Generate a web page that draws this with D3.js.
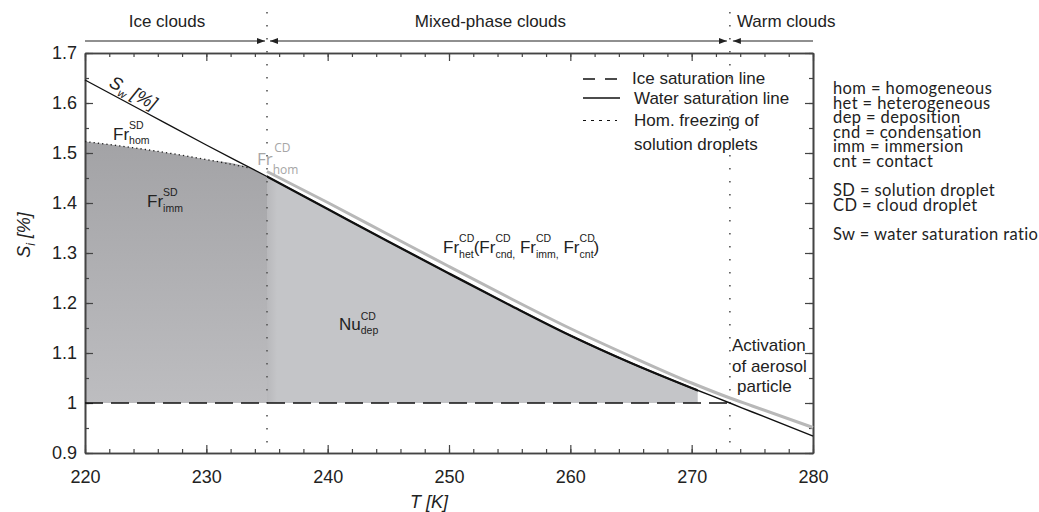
<!DOCTYPE html>
<html>
<head>
<meta charset="utf-8">
<script src="https://cdn.jsdelivr.net/npm/d3@7"></script>
<style>
  body { margin: 0; background: #fff; }
  svg { display: block; }
  text { white-space: pre; }
</style>
</head>
<body>
<svg id="chart" width="1039" height="512"></svg>
<script>
// saturation ratio over ice along the water saturation line
const temps    = [220, 225, 230, 235, 240, 245, 250, 255, 260, 265, 270, 273.15, 275, 280];
const waterSat = [1.646, 1.581, 1.516, 1.453, 1.388, 1.323, 1.259, 1.196, 1.135, 1.080, 1.030, 1.0, 0.982, 0.934];

// grey line: freezing of cloud droplets
const cdTemps  = [235, 240, 245, 250, 255, 260, 265, 270, 273.15, 275, 280];
const cdSat    = [1.463, 1.401, 1.337, 1.273, 1.210, 1.149, 1.093, 1.040, 1.010, 0.994, 0.951];

// homogeneous freezing threshold of solution droplets
const homTemps = [220, 225, 230, 233.6];
const homSat   = [1.523, 1.507, 1.487, 1.470];

const iceSat      = 1.0;
const iceSatRange = [220, 273.15];
const shadeEnd    = 270.5;

const regimeBounds = [220, 235, 273.15, 280];
const regimeNames  = ['Ice clouds', 'Mixed-phase clouds', 'Warm clouds'];

const xMajor  = [220, 230, 240, 250, 260, 270, 280];
const xMinor  = d3.range(220, 281, 2);
const yMajor  = [0.9, 1.0, 1.1, 1.2, 1.3, 1.4, 1.5, 1.6, 1.7];
const yLabels = ['0.9', '1', '1.1', '1.2', '1.3', '1.4', '1.5', '1.6', '1.7'];
const yMinor  = d3.range(0.9, 1.7001, 0.05);

const legendItems = [
  { label: ['Ice saturation line'], dash: '12,10' },
  { label: ['Water saturation line'], dash: null },
  { label: ['Hom. freezing of', 'solution droplets'], dash: '3,5' }
];

const glossary = [
  ['hom = homogeneous', 'het = heterogeneous', 'dep = deposition', 'cnd = condensation',
   'imm = immersion', 'cnt = contact'],
  ['SD = solution droplet', 'CD = cloud droplet'],
  ['Sw = water saturation ratio']
];

const svg = d3.select('#chart');
const sans = '"Liberation Sans", Arial, Helvetica, sans-serif';

const x = d3.scaleLinear().domain([220, 280]).range([85, 813]);
const y = d3.scaleLinear().domain([0.9, 1.7]).range([453, 53]);

const defs = svg.append('defs');

// shading gradients
const gDark = defs.append('linearGradient').attr('id', 'darkShade')
  .attr('gradientUnits', 'userSpaceOnUse')
  .attr('x1', 0).attr('x2', 0).attr('y1', y(1.52)).attr('y2', y(1.0));
gDark.append('stop').attr('offset', 0).attr('stop-color', '#a3a3a6');
gDark.append('stop').attr('offset', 1).attr('stop-color', '#bdbdc0');

const gLight = defs.append('linearGradient').attr('id', 'lightShade')
  .attr('gradientUnits', 'userSpaceOnUse')
  .attr('x1', x(235)).attr('x2', x(235) + 10).attr('y1', 0).attr('y2', 0);
gLight.append('stop').attr('offset', 0).attr('stop-color', '#b8b8bb');
gLight.append('stop').attr('offset', 1).attr('stop-color', '#c4c5c8');

// mixed-phase shading and the heavy part of the water line stop at the same temperature
defs.append('clipPath').attr('id', 'mixedClip')
  .append('rect')
  .attr('x', x(235)).attr('y', y(1.7))
  .attr('width', x(shadeEnd) - x(235)).attr('height', y(0.9) - y(1.7));

defs.append('marker').attr('id', 'arrow')
  .attr('viewBox', '0 0 8 6').attr('refX', 8).attr('refY', 3)
  .attr('markerWidth', 8).attr('markerHeight', 6)
  .attr('markerUnits', 'userSpaceOnUse')
  .attr('orient', 'auto-start-reverse')
  .append('path').attr('d', 'M0,0L8,3L0,6Z').attr('fill', '#222');

const water = temps.map((t, i) => [t, waterSat[i]]);
const cdLine = cdTemps.map((t, i) => [t, cdSat[i]]);
const homLine = homTemps.map((t, i) => [t, homSat[i]]);

const line = d3.line().x(d => x(d[0])).y(d => y(d[1])).curve(d3.curveMonotoneX);
const area = d3.area().x(d => x(d[0])).y0(y(iceSat)).y1(d => y(d[1])).curve(d3.curveMonotoneX);

// ice-cloud regime: freezing of solution droplets
const darkTop = homLine.concat([[235, waterSat[temps.indexOf(235)]]]);
svg.append('path')
  .attr('d', area(darkTop))
  .attr('fill', 'url(#darkShade)');

// mixed-phase regime below water saturation
svg.append('path')
  .attr('d', area(water))
  .attr('clip-path', 'url(#mixedClip)')
  .attr('fill', 'url(#lightShade)');

// axes with inward ticks on all four sides
const axisG = svg.append('g').attr('font-family', sans);
function addAxis(axis, tx, ty) {
  const g = axisG.append('g').attr('transform', `translate(${tx},${ty})`).call(axis);
  g.select('.domain').attr('stroke', '#444').attr('stroke-width', 1.6);
  g.selectAll('.tick line').attr('stroke', '#444').attr('stroke-width', 1.2);
  g.selectAll('.tick text').attr('fill', '#222').style('font-size', '18px');
  return g;
}
addAxis(d3.axisBottom(x).tickValues(xMinor).tickSize(-4).tickSizeOuter(0).tickFormat(''), 0, y(0.9));
addAxis(d3.axisBottom(x).tickValues(xMajor).tickSize(-8).tickSizeOuter(0).tickPadding(17).tickFormat(d3.format('d')), 0, y(0.9));
addAxis(d3.axisTop(x).tickValues(xMinor).tickSize(-4).tickSizeOuter(0).tickFormat(''), 0, y(1.7));
addAxis(d3.axisTop(x).tickValues(xMajor).tickSize(-8).tickSizeOuter(0).tickFormat(''), 0, y(1.7));
addAxis(d3.axisLeft(y).tickValues(yMinor).tickSize(-4).tickSizeOuter(0).tickFormat(''), x(220), 0);
addAxis(d3.axisLeft(y).tickValues(yMajor).tickSize(-8).tickSizeOuter(0).tickPadding(8)
  .tickFormat((d, i) => yLabels[i]), x(220), 0);
addAxis(d3.axisRight(y).tickValues(yMinor).tickSize(-4).tickSizeOuter(0).tickFormat(''), x(280), 0);
addAxis(d3.axisRight(y).tickValues(yMajor).tickSize(-8).tickSizeOuter(0).tickFormat(''), x(280), 0);

// regime boundaries
svg.selectAll('line.regime')
  .data([regimeBounds[1], regimeBounds[2]])
  .join('line')
  .attr('class', 'regime')
  .attr('x1', d => x(d)).attr('x2', d => x(d))
  .attr('y1', 12).attr('y2', y(0.9))
  .attr('stroke', '#555').attr('stroke-width', 1.6)
  .attr('stroke-dasharray', '1.6,11.4');

// ice saturation line
svg.append('line')
  .attr('x1', x(iceSatRange[0])).attr('x2', x(iceSatRange[1]))
  .attr('y1', y(iceSat)).attr('y2', y(iceSat))
  .attr('stroke', '#111').attr('stroke-width', 1.4)
  .attr('stroke-dasharray', '18,8');

// homogeneous freezing of solution droplets
svg.append('path')
  .attr('d', line(homLine))
  .attr('fill', 'none').attr('stroke', '#222').attr('stroke-width', 1.3)
  .attr('stroke-dasharray', '1.3,3');

// cloud droplet freezing line
svg.append('path')
  .attr('d', line(cdLine))
  .attr('fill', 'none').attr('stroke', '#b8b8b8').attr('stroke-width', 3);

// water saturation line: thin in ice and warm clouds, heavier where it bounds the shading
svg.append('path')
  .attr('d', line(water))
  .attr('fill', 'none').attr('stroke', '#111').attr('stroke-width', 1.4);
svg.append('path')
  .attr('d', line(water))
  .attr('clip-path', 'url(#mixedClip)')
  .attr('fill', 'none').attr('stroke', '#111').attr('stroke-width', 2.3);

// regime header with arrows
const head = svg.append('g').attr('font-family', sans).attr('fill', '#222').style('font-size', '17px');
const arrows = [
  { x1: x(regimeBounds[0]), x2: x(regimeBounds[1]) - 2, start: false, end: true },
  { x1: x(regimeBounds[1]) + 3, x2: x(regimeBounds[2]) - 3, start: true, end: true },
  { x1: x(regimeBounds[2]) + 3, x2: x(regimeBounds[3]), start: true, end: false }
];
arrows.forEach(a => {
  head.append('line')
    .attr('x1', a.x1).attr('x2', a.x2).attr('y1', 41).attr('y2', 41)
    .attr('stroke', '#222').attr('stroke-width', 1.2)
    .attr('marker-start', a.start ? 'url(#arrow)' : null)
    .attr('marker-end', a.end ? 'url(#arrow)' : null);
});
head.append('text').attr('x', (x(regimeBounds[0]) + x(regimeBounds[1])) / 2 - 9).attr('y', 27)
  .attr('text-anchor', 'middle').text(regimeNames[0]);
head.append('text').attr('x', (x(regimeBounds[1]) + x(regimeBounds[2])) / 2 - 8).attr('y', 27)
  .attr('text-anchor', 'middle').text(regimeNames[1]);
head.append('text').attr('x', x(regimeBounds[2]) + 7).attr('y', 27).text(regimeNames[2]);

// labels with stacked super- and subscripts
function richText(g, x0, y0, parts, o) {
  let cx = x0;
  parts.forEach(p => {
    if (typeof p === 'string') {
      const t = g.append('text').attr('x', cx).attr('y', y0).style('font-size', o.size + 'px').text(p);
      cx += t.node().getComputedTextLength();
    } else {
      g.append('text').attr('x', cx + (o.supDx || 0)).attr('y', y0 + o.supDy)
        .style('font-size', o.small + 'px').text(p.sup);
      const s = g.append('text').attr('x', cx).attr('y', y0 + o.subDy)
        .style('font-size', o.small + 'px').text(p.sub);
      cx += s.node().getComputedTextLength();
    }
  });
}

const labels = svg.append('g').attr('font-family', sans).attr('fill', '#222');
const std = { size: 17, small: 10.5, supDy: -11, subDy: 4.5 };
richText(labels, 113, 139.5, ['Fr', { sup: 'SD', sub: 'hom' }], std);
richText(labels, 147, 207, ['Fr', { sup: 'SD', sub: 'imm' }], std);
richText(labels, 339, 329.5, ['Nu', { sup: 'CD', sub: 'dep' }], { size: 17, small: 10.5, supDy: -10, subDy: 4.5 });
richText(labels, 443, 252.7, ['Fr', { sup: 'CD', sub: 'het' }, '(Fr', { sup: 'CD', sub: 'cnd,' }, ' Fr',
  { sup: 'CD', sub: 'imm,' }, ' Fr', { sup: 'CD', sub: 'cnt' }, ')'], { size: 17, small: 10.5, supDy: -11, subDy: 5.3 });

const greyLab = svg.append('g').attr('font-family', '"Open Sans", sans-serif').attr('fill', '#a6a6a6');
richText(greyLab, 257, 165, ['Fr', { sup: 'CD', sub: 'hom' }], { size: 17, small: 12, supDy: -13, subDy: 9, supDx: 1.5 });

// S_w label along the water saturation line
const swAngle = Math.atan2(y(waterSat[1]) - y(waterSat[0]), x(temps[1]) - x(temps[0])) * 180 / Math.PI;
const sw = labels.append('text')
  .attr('transform', `translate(108,86) rotate(${swAngle})`)
  .style('font-size', '18px').style('font-style', 'italic');
sw.append('tspan').text('S');
sw.append('tspan').attr('dy', 4).style('font-size', '11px').text('w');
sw.append('tspan').attr('dy', -4).text(' [%]');

// activation annotation
const act = labels.append('g').style('font-size', '17px');
[['Activation', 732, 351], ['of aerosol', 732, 372], ['particle', 737, 392]].forEach(d => {
  act.append('text').attr('x', d[1]).attr('y', d[2]).text(d[0]);
});

// axis titles
labels.append('text').attr('x', 429).attr('y', 508).attr('text-anchor', 'middle')
  .style('font-size', '18px').style('font-style', 'italic').text('T [K]');
const yt = labels.append('text')
  .attr('transform', 'translate(30,235) rotate(-90)')
  .attr('text-anchor', 'middle')
  .style('font-size', '18px').style('font-style', 'italic');
yt.append('tspan').text('S');
yt.append('tspan').attr('dy', 5).style('font-size', '12px').text('i');
yt.append('tspan').attr('dy', -5).text(' [%]');

// legend
const leg = svg.append('g').attr('font-family', sans).attr('fill', '#222').style('font-size', '17px');
const legRows = [79, 98, 120.5];
const legBase = [[83.6], [104], [126], [150]];
legendItems.forEach((d, i) => {
  leg.append('line')
    .attr('x1', 583).attr('x2', i === 1 ? 620 : 617)
    .attr('y1', legRows[i]).attr('y2', legRows[i])
    .attr('stroke', '#111').attr('stroke-width', i === 2 ? 1 : 1.4)
    .attr('stroke-dasharray', d.dash);
  d.label.forEach((t, j) => {
    leg.append('text').attr('x', i === 0 ? 632 : 634).attr('y', legBase[i + j][0]).text(t);
  });
});

// abbreviations
const gl = svg.append('g').attr('font-family', 'Lato, "Open Sans", sans-serif')
  .attr('fill', '#222').style('font-size', '16.5px')
  .style('letter-spacing', '0.4px');
let gy = 94;
glossary.forEach(block => {
  block.forEach(t => {
    gl.append('text').attr('x', 833).attr('y', gy).text(t);
    gy += 14.6;
  });
  gy += 14.8;
});
</script>
</body>
</html>
